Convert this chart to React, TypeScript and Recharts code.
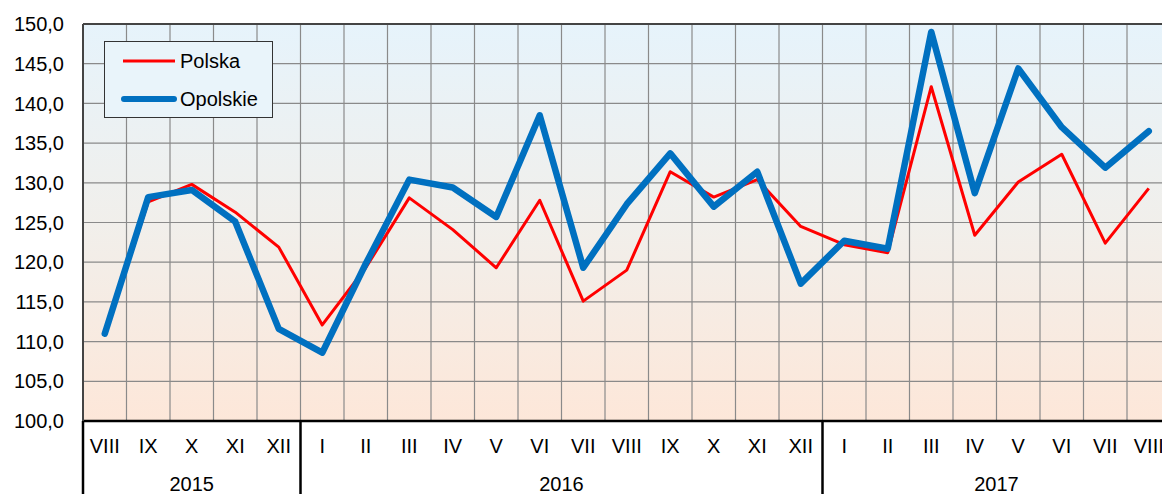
import React from "react";
import {
  LineChart,
  Line,
  XAxis,
  YAxis,
  CartesianGrid,
  Legend,
  ReferenceLine,
} from "recharts";

const months = [
  "VIII", "IX", "X", "XI", "XII",
  "I", "II", "III", "IV", "V", "VI", "VII", "VIII", "IX", "X", "XI", "XII",
  "I", "II", "III", "IV", "V", "VI", "VII", "VIII",
];
const years = [
  "2015", "2015", "2015", "2015", "2015",
  "2016", "2016", "2016", "2016", "2016", "2016", "2016", "2016", "2016", "2016", "2016", "2016",
  "2017", "2017", "2017", "2017", "2017", "2017", "2017", "2017",
];
const polska = [
  110.9, 127.6, 129.8, 126.3, 121.9,
  112.1, 119.3, 128.1, 124.1, 119.3, 127.8, 115.1, 119.0, 131.4, 128.2, 130.4, 124.5,
  122.2, 121.2, 142.1, 123.4, 130.1, 133.6, 122.4, 129.3,
];
const opolskie = [
  111.0, 128.2, 129.1, 125.1, 111.6,
  108.6, 119.8, 130.4, 129.4, 125.7, 138.5, 119.3, 127.3, 133.7, 127.0, 131.4, 117.3,
  122.7, 121.7, 149.0, 128.7, 144.4, 137.0, 131.9, 136.5,
];
const yTicks = [100, 105, 110, 115, 120, 125, 130, 135, 140, 145, 150];

const data = months.map((m, i) => ({
  month: m,
  year: years[i],
  Polska: polska[i],
  Opolskie: opolskie[i],
}));

const FONT = "'Liberation Sans', Arial, sans-serif";
const CHART_W = 1170;
const CHART_H = 500;
const Y_W = 75;
const M_RIGHT = 7.5;
const BAND = (CHART_W - Y_W - M_RIGHT) / months.length;
const HALF = BAND / 2;

// month label + year label + year separators
function MonthTick(props: any) {
  const { x, y, payload } = props;
  const i = payload.index;
  const yr = years[i];
  const isStart = i === 0 || years[i - 1] !== yr;
  let yearLabel = null;
  if (isStart) {
    let end = i;
    while (end + 1 < years.length && years[end + 1] === yr) end++;
    const cx = x - HALF + ((end - i + 1) * BAND) / 2;
    yearLabel = (
      <text x={cx} y={y + 56} dy="0.71em" textAnchor="middle" fontSize={20} fontFamily={FONT} fill="#000">
        {yr}
      </text>
    );
  }
  return (
    <g>
      {isStart && (
        <line x1={x - HALF} x2={x - HALF} y1={y} y2={y + 90} stroke="#000" strokeWidth={2.5} />
      )}
      <text x={x} y={y + 18} dy="0.71em" textAnchor="middle" fontSize={20} fontFamily={FONT} fill="#000">
        {payload.value}
      </text>
      {yearLabel}
    </g>
  );
}

function LegendBox() {
  return (
    <div
      style={{
        width: 169,
        height: 77,
        boxSizing: "border-box",
        border: "1px solid #333",
        background: "#E9F4FA",
      }}
    >
      <svg width={167} height={75} style={{ display: "block" }}>
        <line x1={18} x2={70} y1={19} y2={19} stroke="#FF0000" strokeWidth={3} />
        <text x={75} y={26} fontSize={20} fontFamily={FONT} fill="#000">
          Polska
        </text>
        <line x1={19} x2={69} y1={57} y2={57} stroke="#0070C0" strokeWidth={6} strokeLinecap="round" />
        <text x={75} y={64} fontSize={20} fontFamily={FONT} fill="#000">
          Opolskie
        </text>
      </svg>
    </div>
  );
}

export default function App() {
  return (
    <>
      <style>{"html,body{margin:0;padding:0;overflow:hidden}"}</style>
      <div
        style={{
          width: 1162,
          height: 494,
          padding: 8,
          boxSizing: "border-box",
          overflow: "hidden",
        }}
      >
        <LineChart
          width={CHART_W}
          height={CHART_H}
          data={data}
          margin={{ top: 16, right: M_RIGHT, left: 0, bottom: 0 }}
        >
          <defs>
            <linearGradient id="bg" x1="0" y1="0" x2="0" y2="1">
              <stop offset="0%" stopColor="#E6F3FB" />
              <stop offset="50%" stopColor="#F1EFEB" />
              <stop offset="100%" stopColor="#FDE7D9" />
            </linearGradient>
          </defs>
          <CartesianGrid
            fill="url(#bg)"
            fillOpacity={1}
            stroke="#8A8A8A"
            strokeWidth={1.2}
            verticalCoordinatesGenerator={({ offset }: any) =>
              Array.from({ length: months.length + 1 }, (_, i) => offset.left + (i * offset.width) / months.length)
            }
          />
          <XAxis
            dataKey="month"
            interval={0}
            padding={{ left: HALF, right: HALF }}
            height={87}
            tickSize={0}
            tickMargin={0}
            tickLine={false}
            axisLine={{ stroke: "#000", strokeWidth: 2.5 }}
            tick={<MonthTick />}
          />
          <YAxis
            width={Y_W}
            domain={[100, 150]}
            ticks={yTicks}
            interval={0}
            tickLine={false}
            tickSize={0}
            tickMargin={19}
            axisLine={{ stroke: "#444", strokeWidth: 2 }}
            tickFormatter={(v: number) => v.toFixed(1).replace(".", ",")}
            tick={{ fontSize: 20, fontFamily: FONT, fill: "#000" }}
          />
          <ReferenceLine y={150} stroke="#444" strokeWidth={2} />
          <Legend
            layout="vertical"
            align="center"
            verticalAlign="middle"
            wrapperStyle={{ left: 96, top: 33, width: 169 }}
            content={() => <LegendBox />}
          />
          <Line
            type="linear"
            dataKey="Polska"
            stroke="#FF0000"
            strokeWidth={3}
            dot={false}
            strokeLinejoin="round"
            isAnimationActive={false}
          />
          <Line
            type="linear"
            dataKey="Opolskie"
            stroke="#0070C0"
            strokeWidth={6.5}
            dot={false}
            strokeLinejoin="round"
            strokeLinecap="round"
            isAnimationActive={false}
          />
        </LineChart>
      </div>
    </>
  );
}
